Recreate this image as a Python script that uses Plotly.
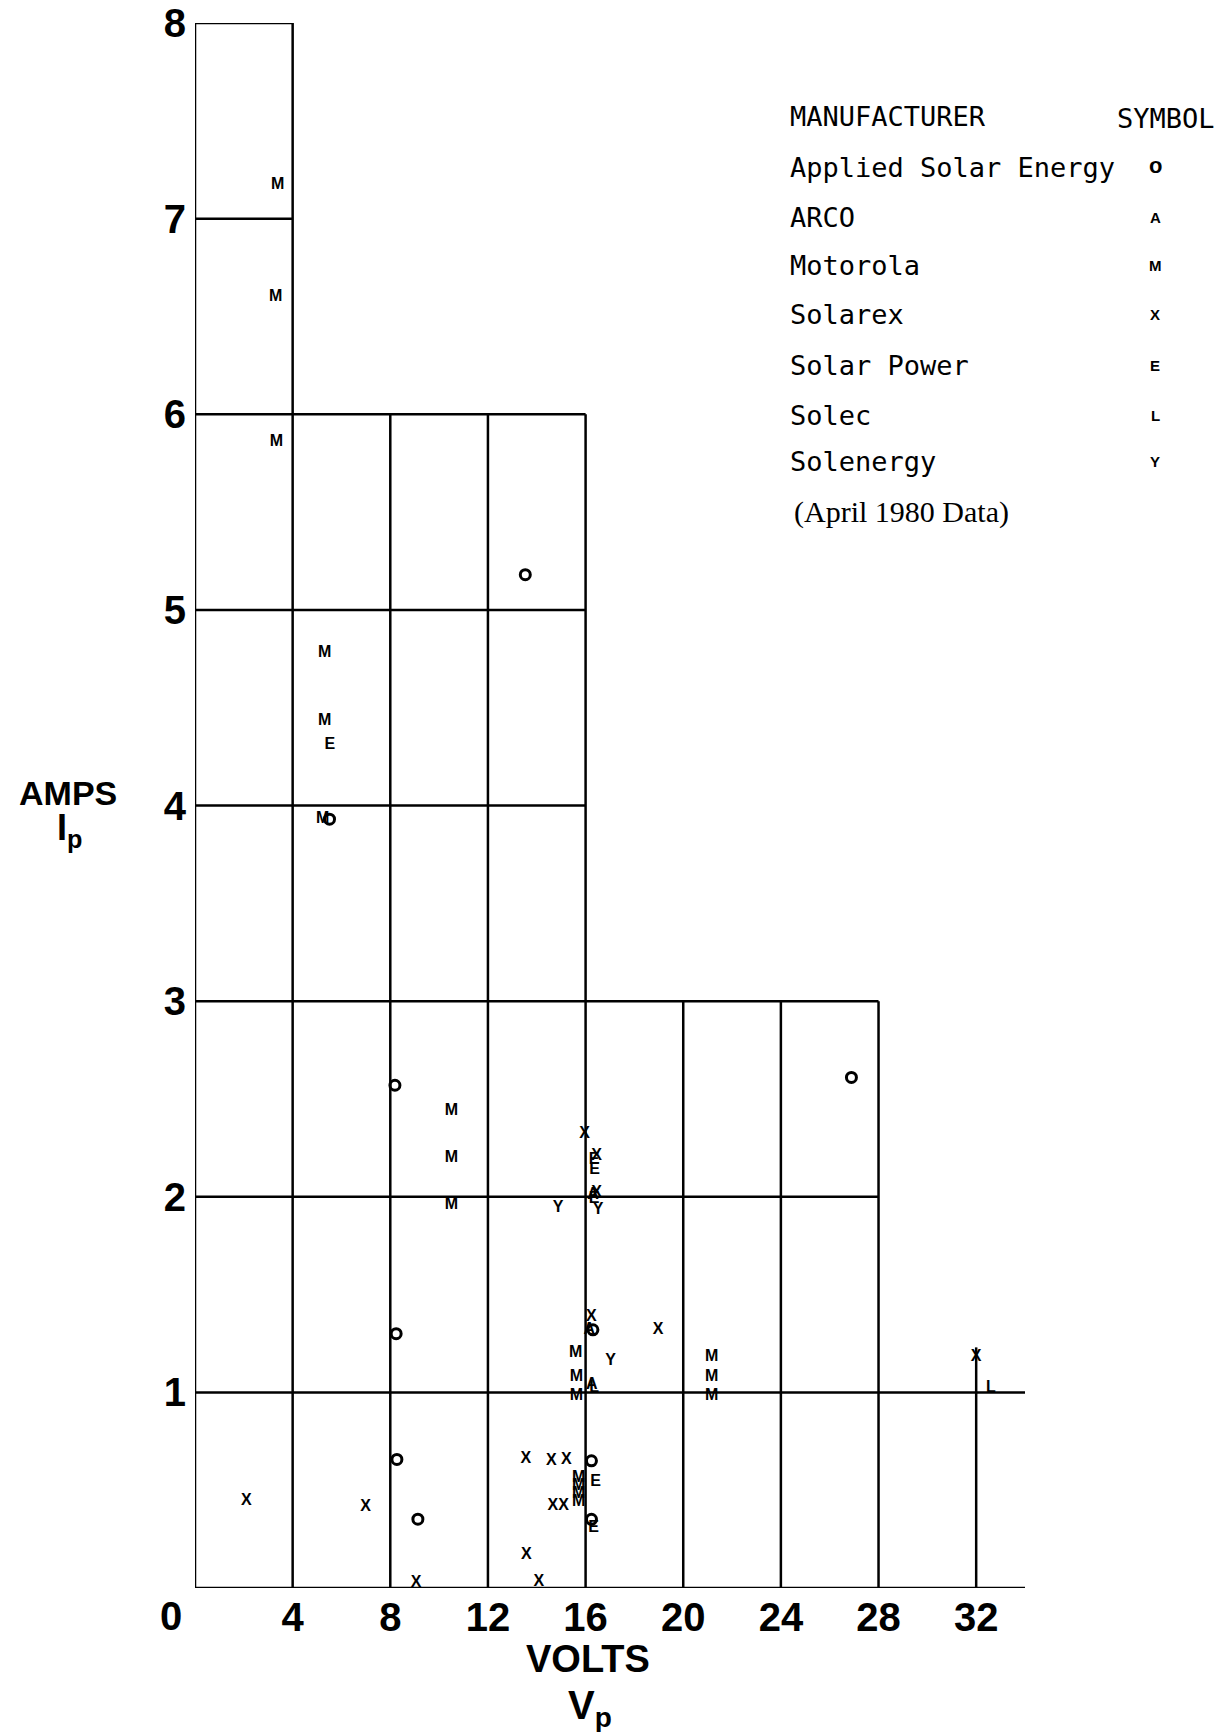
import plotly.graph_objects as go

# ---------------- data ----------------
x_range = [0, 34]
y_range = [0, 8]
x_ticks = [4, 8, 12, 16, 20, 24, 28, 32]
x_tick_labels = ["4", "8", "12", "16", "20", "24", "28", "32"]
y_ticks = [1, 2, 3, 4, 5, 6, 7, 8]
y_tick_labels = ["1", "2", "3", "4", "5", "6", "7", "8"]

# staircase grid: horizontal lines (y, x-extent) and vertical lines (x, y-extent)
h_lines_y = [0, 1, 2, 3, 4, 5, 6, 7, 8]
h_lines_xend = [34, 34, 28, 28, 16, 16, 16, 4, 4]
v_lines_x = [0, 4, 8, 12, 16, 20, 24, 28, 32]
v_lines_yend = [8, 8, 6, 6, 6, 3, 3, 3, 1.23]

manufacturers = ["Applied Solar Energy", "ARCO", "Motorola", "Solarex",
                 "Solar Power", "Solec", "Solenergy"]
symbols = ["o", "A", "M", "X", "E", "L", "Y"]

ase_v = [13.53, 5.51, 8.19, 26.89, 8.24, 16.30, 8.27, 9.13, 16.24, 16.24]
ase_i = [5.18, 3.93, 2.57, 2.61, 1.30, 1.32, 0.657, 0.352, 0.65, 0.351]

arco_v = [16.30, 16.15, 16.25]
arco_i = [2.01, 1.32, 1.04]

motorola_v = [3.39, 3.30, 3.33, 5.31, 5.31, 5.23, 10.5, 10.5, 10.5,
              15.59, 15.62, 15.62, 15.72, 15.72, 15.72, 15.72, 21.16, 21.16, 21.16]
motorola_i = [7.17, 6.60, 5.86, 4.78, 4.43, 3.93, 2.44, 2.20, 1.96,
              1.20, 1.08, 0.98, 0.56, 0.52, 0.48, 0.44, 1.18, 1.08, 0.98]

solarex_v = [2.10, 6.99, 9.06, 13.55, 14.60, 15.21, 14.66, 15.10, 13.57, 14.09,
             15.96, 16.45, 16.45, 16.24, 18.97, 32.0]
solarex_i = [0.446, 0.415, 0.027, 0.657, 0.65, 0.654, 0.42, 0.42, 0.169, 0.032,
             2.32, 2.21, 2.02, 1.386, 1.318, 1.18]

solarpower_v = [5.52, 16.35, 16.37, 16.35, 16.41, 16.33]
solarpower_i = [4.31, 2.19, 2.135, 1.99, 0.543, 0.305]

solec_v = [16.35, 32.6]
solec_i = [1.02, 1.02]

solenergy_v = [14.87, 16.51, 17.02]
solenergy_i = [1.94, 1.93, 1.16]

note_text = "(April 1980 Data)"

# ---------------- layout constants ----------------
W, H = 1227, 1732
ML, MR, MT, MB = 195, 202, 23, 144
PW, PH = W - ML - MR, H - MT - MB


def px(xp):
    return (xp - ML) / PW


def py(yp):
    return (H - MB - yp) / PH


BOLD = "Liberation Sans"
MONO = "DejaVu Sans Mono"
SERIF = "Liberation Serif"

fig = go.Figure()

# grid lines
shapes = []
for yv, xe in zip(h_lines_y, h_lines_xend):
    shapes.append(dict(type="line", xref="x", yref="y", x0=0, x1=xe, y0=yv, y1=yv,
                       line=dict(color="black", width=2.5), layer="below"))
for xv, ye in zip(v_lines_x, v_lines_yend):
    shapes.append(dict(type="line", xref="x", yref="y", x0=xv, x1=xv, y0=0, y1=ye,
                       line=dict(color="black", width=2.5), layer="below"))

# Applied Solar Energy: open circles
fig.add_trace(go.Scatter(x=ase_v, y=ase_i, mode="markers", name=manufacturers[0],
                         marker=dict(symbol="circle-open", size=10, color="black",
                                     line=dict(width=3, color="black")),
                         cliponaxis=False, showlegend=False))

letter_series = [
    (arco_v, arco_i, 1),
    (motorola_v, motorola_i, 2),
    (solarex_v, solarex_i, 3),
    (solarpower_v, solarpower_i, 4),
    (solec_v, solec_i, 5),
    (solenergy_v, solenergy_i, 6),
]
for vs, is_, k in letter_series:
    fig.add_trace(go.Scatter(x=vs, y=is_, mode="text", name=manufacturers[k],
                             text=[symbols[k]] * len(vs), textposition="middle center",
                             textfont=dict(family=BOLD, size=16, color="black", weight="bold"),
                             cliponaxis=False, showlegend=False))

annotations = []
# corner zero label
annotations.append(dict(xref="paper", yref="paper", x=px(171), y=py(1616), text="0",
                        showarrow=False, xanchor="center", yanchor="middle",
                        font=dict(family=BOLD, size=40, color="black", weight="bold")))
# axis titles
annotations.append(dict(xref="paper", yref="paper", x=px(68), y=py(793), text="AMPS",
                        showarrow=False, xanchor="center", yanchor="middle",
                        font=dict(family=BOLD, size=34, color="black", weight="bold")))
annotations.append(dict(xref="paper", yref="paper", x=px(70), y=py(830), text="I<sub>p</sub>",
                        showarrow=False, xanchor="center", yanchor="middle",
                        font=dict(family=BOLD, size=36, color="black", weight="bold")))
annotations.append(dict(xref="paper", yref="paper", x=px(588), y=py(1659), text="VOLTS",
                        showarrow=False, xanchor="center", yanchor="middle",
                        font=dict(family=BOLD, size=38, color="black", weight="bold")))
annotations.append(dict(xref="paper", yref="paper", x=px(590), y=py(1708), text="V<sub>p</sub>",
                        showarrow=False, xanchor="center", yanchor="middle",
                        font=dict(family=BOLD, size=40, color="black", weight="bold")))

# legend block
annotations.append(dict(xref="paper", yref="paper", x=px(788), y=py(117), text="MANUFACTURER",
                        showarrow=False, xanchor="left", yanchor="middle",
                        font=dict(family=MONO, size=27, color="black")))
annotations.append(dict(xref="paper", yref="paper", x=px(1115), y=py(119), text="SYMBOL",
                        showarrow=False, xanchor="left", yanchor="middle",
                        font=dict(family=MONO, size=27, color="black")))
row_y = [166, 215, 263, 313, 363, 413, 459]
for name, sym, ry in zip(manufacturers, symbols, row_y):
    annotations.append(dict(xref="paper", yref="paper", x=px(788), y=py(ry + 2), text=name,
                            showarrow=False, xanchor="left", yanchor="middle",
                            font=dict(family=MONO, size=27, color="black")))
    if sym == "o":
        annotations.append(dict(xref="paper", yref="paper", x=px(1155), y=py(ry), text="o",
                                showarrow=False, xanchor="center", yanchor="middle",
                                font=dict(family=BOLD, size=22, color="black", weight="bold")))
    else:
        annotations.append(dict(xref="paper", yref="paper", x=px(1155), y=py(ry + 2), text=sym,
                                showarrow=False, xanchor="center", yanchor="middle",
                                font=dict(family=BOLD, size=15, color="black", weight="bold")))
annotations.append(dict(xref="paper", yref="paper", x=px(792), y=py(512), text=note_text,
                        showarrow=False, xanchor="left", yanchor="middle",
                        font=dict(family=SERIF, size=30, color="black")))

fig.update_layout(
    width=W, height=H,
    margin=dict(l=ML, r=MR, t=MT, b=MB, pad=0, autoexpand=False),
    paper_bgcolor="white", plot_bgcolor="white",
    shapes=shapes, annotations=annotations,
    showlegend=False,
    xaxis=dict(range=x_range, tickmode="array", tickvals=x_ticks, ticktext=x_tick_labels,
               showgrid=False, zeroline=False, showline=False, ticks="",
               ticklabelstandoff=2, automargin=False,
               tickfont=dict(family=BOLD, size=40, color="black", weight="bold"),
               fixedrange=True),
    yaxis=dict(range=y_range, tickmode="array", tickvals=y_ticks, ticktext=y_tick_labels,
               showgrid=False, zeroline=False, showline=False, ticks="",
               ticklabelstandoff=8, automargin=False,
               tickfont=dict(family=BOLD, size=40, color="black", weight="bold"),
               fixedrange=True),
)

fig.write_html("out.html")
